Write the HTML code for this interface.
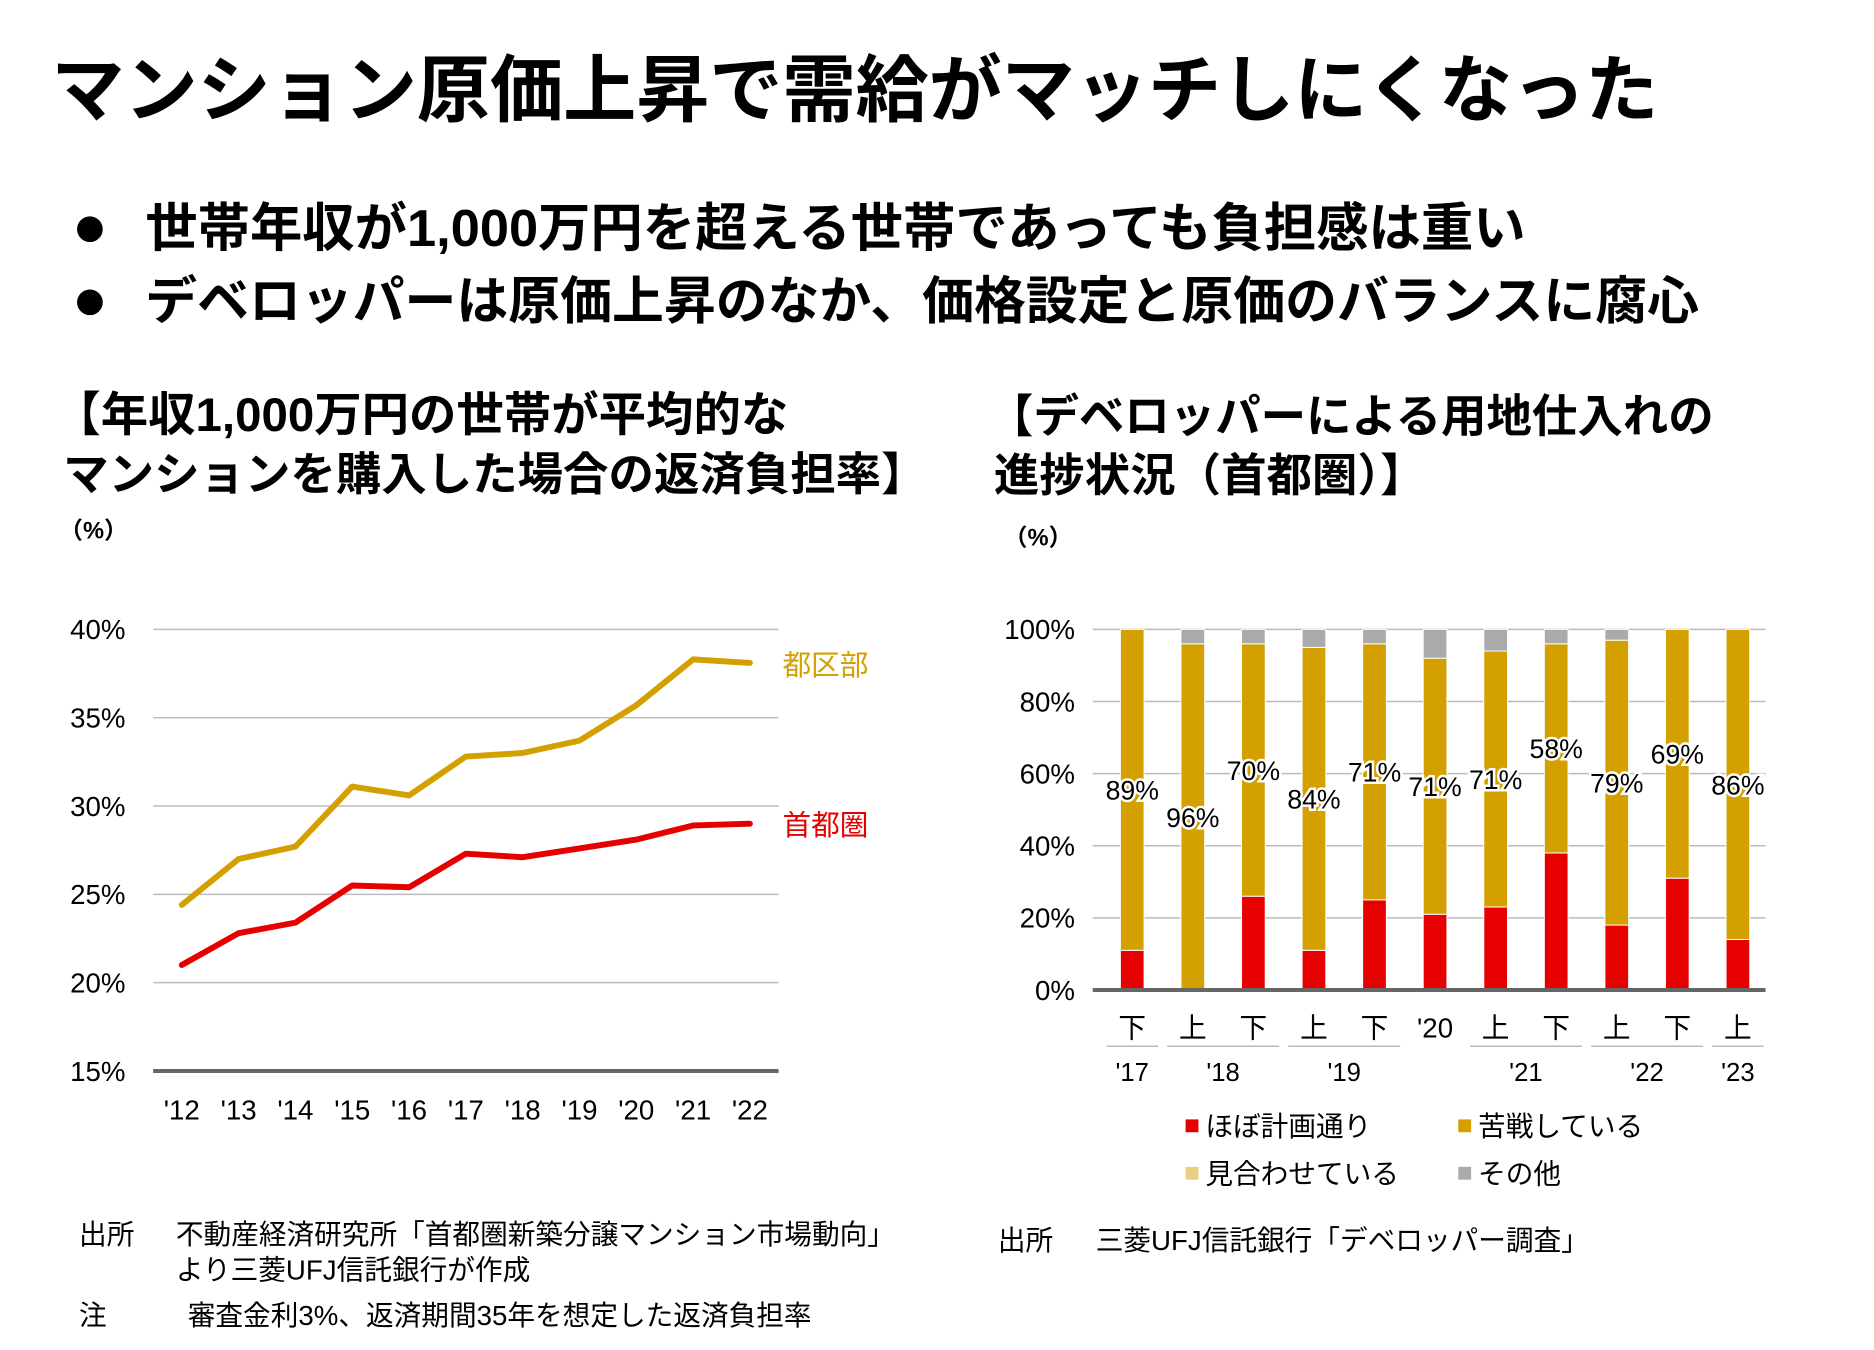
<!DOCTYPE html>
<html><head><meta charset="utf-8">
<style>
html,body{margin:0;padding:0;background:#fff;}
svg{display:block;font-family:"Liberation Sans","Noto Sans CJK JP",sans-serif;}
</style></head>
<body>
<svg id="root" width="1874" height="1350" viewBox="0 0 1874 1350" xmlns="http://www.w3.org/2000/svg">
<g transform="scale(0.988)">
<text x="52" y="117" font-size="74" font-weight="bold" fill="#000">マンション原価上昇で需給がマッチしにくなった</text>
<circle cx="91" cy="232" r="13" fill="#000"/>
<text x="147" y="249" font-size="53" font-weight="bold">世帯年収が1,000万円を超える世帯であっても負担感は重い</text>
<circle cx="91" cy="306" r="13" fill="#000"/>
<text x="147" y="323" font-size="52.5" font-weight="bold">デベロッパーは原価上昇のなか、価格設定と原価のバランスに腐心</text>

<g font-weight="bold">
<text x="54" y="436" font-size="48">【年収1,000万円の世帯が平均的な</text>
<text x="64" y="496" font-size="46">マンションを購入した場合の返済負担率】</text>
</g>
<text x="60" y="545" font-size="24" font-weight="bold">（%）</text>
<g id="left"></g>

<g font-size="46" font-weight="bold">
<text x="1000" y="437">【デベロッパーによる用地仕入れの</text>
<text x="1006" y="497">進捗状況（首都圏）】</text>
</g>
<text x="1016" y="552" font-size="24" font-weight="bold">（%）</text>
<g id="right"></g>

<g font-size="28">
<text x="80" y="1259">出所</text>
<text x="178" y="1259">不動産経済研究所「首都圏新築分譲マンション市場動向」</text>
<text x="178" y="1295">より三菱UFJ信託銀行が作成</text>
<text x="80" y="1341">注</text>
<text x="190" y="1341">審査金利3%、返済期間35年を想定した返済負担率</text>
</g>
<g font-size="28">
<text x="1010" y="1265">出所</text>
<text x="1109" y="1265">三菱UFJ信託銀行「デベロッパー調査」</text>
</g>
</g>
</svg>
<script>
const years = ["'12","'13","'14","'15","'16","'17","'18","'19","'20","'21","'22"];
const tokuBu = [24.4,27.0,27.7,31.1,30.6,32.8,33.0,33.7,35.7,38.3,38.1];
const shutoken = [21.0,22.8,23.4,25.5,25.4,27.3,27.1,27.6,28.1,28.9,29.0];
const leftTicks = [15,20,25,30,35,40];

const halves = ["下","上","下","上","下","'20","上","下","上","下","上"];
const onPlan = [11,0,26,11,25,21,23,38,18,31,14];
const struggling = [89,96,70,84,71,71,71,58,79,69,86];
const postponed = [0,0,0,0,0,0,0,0,0,0,0];
const other = [0,4,4,5,4,8,6,4,3,0,0];
const rightTicks = [0,20,40,60,80,100];
const yearGroups = [["'17",0,0],["'18",1,2],["'19",3,4],["'21",6,7],["'22",8,9],["'23",10,10]];

const NS="http://www.w3.org/2000/svg";
function mk(parent,tag,attrs,text){const e=document.createElementNS(NS,tag);for(const k in attrs)e.setAttribute(k,attrs[k]);if(text!==undefined)e.textContent=text;parent.appendChild(e);return e;}

const L=document.getElementById('left');
const lx=i=>184+i*57.5;
const ly=v=>1084-(v-15)*(447/25);
leftTicks.forEach(t=>{
  const g=mk(L,'line',{x1:155,x2:788,y1:ly(t),y2:ly(t),stroke:t===15?'#666':'#bbb','stroke-width':t===15?4:1.5});
  
  
  const tx=mk(L,'text',{x:127,y:ly(t)+10,'font-size':28,'text-anchor':'end'},t+'%');
  
  
});
years.forEach((y,i)=>{
  const tx=mk(L,'text',{x:lx(i),y:1133,'font-size':28,'text-anchor':'middle'},y);
  
  
});
function series(vals,color,name){
  const p=mk(L,'polyline',{points:vals.map((v,i)=>lx(i)+','+ly(v)).join(' '),fill:'none',stroke:color,'stroke-width':6,'stroke-linejoin':'round','stroke-linecap':'round'});
  
  
}
series(tokuBu,'#D4A000','line-tokubu');
series(shutoken,'#E60000','line-shutoken');
const t1=mk(L,'text',{x:792,y:683,'font-size':29,fill:'#D4A000'},'都区部');


const t2=mk(L,'text',{x:792,y:845,'font-size':29,fill:'#E60000'},'首都圏');



const R=document.getElementById('right');
const rx=i=>1146+i*61.3;
const ry=v=>1002-v*3.65;
const bw=24;
rightTicks.forEach(t=>{
  const g=mk(R,'line',{x1:1106,x2:1787,y1:ry(t),y2:ry(t),stroke:'#bbb','stroke-width':1.5});
  
  
  const tx=mk(R,'text',{x:1088,y:ry(t)+10,'font-size':28,'text-anchor':'end'},t+'%');
  
  
});
halves.forEach((h,i)=>{
  let base=0;
  [[onPlan,'#E60000','bar-on-plan'],[struggling,'#D4A000','bar-struggling'],[postponed,'#EBCF80','bar-postponed'],[other,'#AAAAAA','bar-other']].forEach(([arr,col,nm])=>{
    const v=arr[i];
    if(v>0){
      const r=mk(R,'rect',{x:rx(i)-bw/2,y:ry(base+v),width:bw,height:ry(base)-ry(base+v),fill:col,stroke:'#fff','stroke-width':1});
      
      
    }
    base+=v;
  });
  const mid=onPlan[i]+struggling[i]/2;
  const lb=mk(R,'text',{x:rx(i),y:ry(mid)+10,'font-size':27,'text-anchor':'middle',stroke:'#fff','stroke-width':5,'paint-order':'stroke'},struggling[i]+'%');
  
  
  const ht=mk(R,'text',{x:rx(i),y:1050,'font-size':28,'text-anchor':'middle'},h);
  
  
});
const ax=mk(R,'line',{x1:1106,x2:1787,y1:ry(0),y2:ry(0),stroke:'#666','stroke-width':4});


yearGroups.forEach(([lab,a,b])=>{
  const ln=mk(R,'line',{x1:rx(a)-26,x2:rx(b)+26,y1:1059,y2:1059,stroke:'#bbb','stroke-width':1.5});
  
  
  const tx=mk(R,'text',{x:(rx(a)+rx(b))/2,y:1094,'font-size':26,'text-anchor':'middle'},lab);
  
  
});
[['ほぼ計画通り','#E60000',1200,1140],['苦戦している','#D4A000',1476,1140],['見合わせている','#EBCF80',1200,1188],['その他','#AAAAAA',1476,1188]].forEach(([t,c,x,y])=>{
  const s=mk(R,'rect',{x:x,y:y-7,width:13,height:13,fill:c});
  
  
  const tx=mk(R,'text',{x:x+20,y:y+10,'font-size':28},t);
  
  
});
</script>
</body></html>
